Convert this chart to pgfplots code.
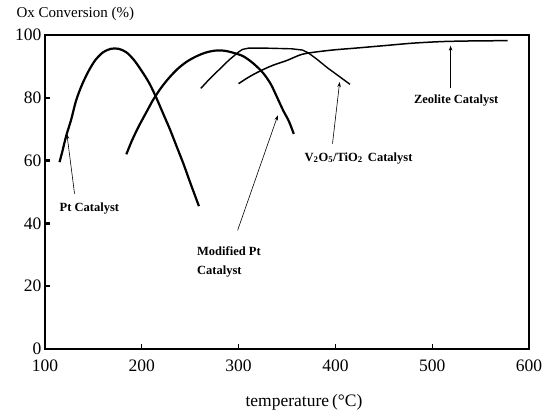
\documentclass[border=0pt]{standalone}
\usepackage{fontspec}
\setmainfont{Liberation Serif}
\usepackage{pgfplots}
\pgfplotsset{compat=1.18}
\usetikzlibrary{arrows.meta}
\begin{document}
\begin{tikzpicture}
\begin{axis}[
  at={(0,0)}, anchor=south west,
  scale only axis, width=484pt, height=314pt,
  xmin=100, xmax=600, ymin=0, ymax=100,
  xtick={100,200,...,600}, ytick={0,20,...,100},
  tick pos=left, tick align=inside, major tick length=5pt,
  xtick style={line width=1pt, black},
  ytick style={line width=2.5pt, black},
  axis line style={line width=1.6pt},
  tick label style={font=\fontsize{17.5}{20}\selectfont},
  /pgf/number format/assume math mode=true,
  xticklabel style={yshift=-7pt},
  xlabel={temperature\,(°C)},
  every axis x label/.style={at={(axis description cs:0.535,0)}, anchor=base, yshift=-57pt, font=\fontsize{17.5}{20}\selectfont},
  ylabel={Ox Conversion (\%)},
  every axis y label/.style={at={(axis description cs:0,1)}, anchor=base west, xshift=-32pt, yshift=17pt, font=\fontsize{15}{18}\selectfont},
  clip=false,
]
% Pt Catalyst
\addplot[black, line width=2.2pt, smooth, tension=0.5] coordinates {
(115,59.5) (118,63) (122,68) (127,73) (132,79) (138,84) (145,88.5) (152,92)
(160,94.5) (168,95.6) (176,95.6) (184,94.5) (192,92) (200,88.5) (208,84.5)
(215,80) (222,75) (229,70) (236,64.5) (243,59) (250,53) (259,45.5)};
% Modified Pt Catalyst
\addplot[black, line width=2.2pt, smooth, tension=0.5] coordinates {
(184,62) (190,66.5) (197,71) (204,75) (212,79.5) (220,83.2) (228,86.3) (237,89.2)
(246,91.4) (255,93) (265,94.3) (275,95) (285,95) (295,94.3) (305,93.2) (315,91)
(325,88) (333,84.5) (340,80) (346,76) (352,72.5) (357,68.5)};
% V2O5/TiO2 Catalyst
\addplot[black, line width=1.4pt] coordinates {
(261,83) (270,86) (280,89) (290,92) (300,94.6) (304,95.4) (310,95.8) (330,95.8)
(355,95.6) (366,95.2) (372,94.3) (380,92.5) (392,89.5) (404,86.8) (415,84.3)};
% Zeolite Catalyst
\addplot[black, line width=1.5pt, smooth, tension=0.5] coordinates {
(300,84.5) (310,86.5) (322,88.5) (335,90.3) (350,91.9) (365,93.8) (380,94.6)
(400,95.3) (420,95.8) (450,96.6) (480,97.4) (510,97.9) (540,98.1) (578,98.2)};
% annotations
\draw[-{Stealth[length=5pt,width=3.5pt]}, line width=0.6pt] (axis cs:130.5,49.5) -- (axis cs:122.6,68.5);
\draw[-{Stealth[length=5pt,width=3.5pt]}, line width=0.6pt] (axis cs:299,37.8) -- (axis cs:340.5,74.4);
\draw[-{Stealth[length=5pt,width=3.5pt]}, line width=0.6pt] (axis cs:397,65.4) -- (axis cs:404.4,85);
\draw[-{Stealth[length=5pt,width=3.5pt]}, line width=0.6pt] (axis cs:519,83) -- (axis cs:519,96.6);
\node[anchor=west, inner sep=0pt, font=\fontsize{12.5}{14}\selectfont\bfseries] at (axis cs:115,44.7) {Pt Catalyst};
\node[anchor=west, inner sep=0pt, font=\fontsize{12.5}{14}\selectfont\bfseries] at (axis cs:257,31) {Modified Pt};
\node[anchor=west, inner sep=0pt, font=\fontsize{12.5}{14}\selectfont\bfseries] at (axis cs:257,24.6) {Catalyst};
\node[anchor=west, inner sep=0pt, font=\fontsize{12.5}{14}\selectfont\bfseries] at (axis cs:368,60.8) {V\textsubscript{2}O\textsubscript{5}/TiO\textsubscript{2}\, Catalyst};
\node[anchor=west, inner sep=0pt, font=\fontsize{12.5}{14}\selectfont\bfseries] at (axis cs:481,79) {Zeolite Catalyst};
\end{axis}
\pgfresetboundingbox
\path[use as bounding box] (-45pt,-65pt) rectangle (500pt,349pt);
\end{tikzpicture}
\end{document}
